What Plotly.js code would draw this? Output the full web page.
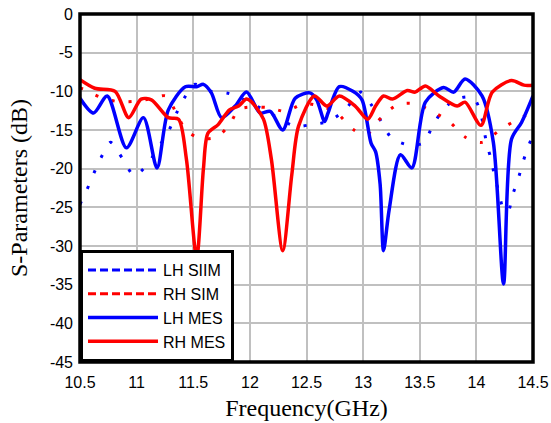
<!DOCTYPE html>
<html>
<head>
<meta charset="utf-8">
<script src="https://cdn.plot.ly/plotly-3.0.1.min.js"></script>
<style>html,body{margin:0;padding:0;background:#fff;}</style>
</head>
<body>
<div id="chart" style="width:551px;height:423px;"></div>
<script>
// LH SIM (blue dotted)
const lhSimF = [10.50,10.58,10.64,10.71,10.77,10.88,10.98,11.09,11.19,11.28,11.35,11.42,11.51,11.66,11.82,12.10,12.40,12.54,12.69,12.84,12.98,13.07,13.16,13.25,13.39,13.53,13.61,13.70,13.82,13.97,14.03,14.09,14.13,14.16,14.20,14.24,14.28,14.32,14.37,14.41,14.46,14.50];
const lhSimDB = [-24.6,-22.1,-20.0,-17.9,-16.6,-18.8,-20.9,-19.5,-17.3,-15.2,-12.9,-10.9,-9.1,-10.0,-10.3,-12.2,-14.5,-14.3,-13.9,-12.4,-10.1,-11.7,-13.9,-16.0,-16.9,-16.7,-14.6,-12.5,-11.0,-10.8,-12.4,-16.7,-18.8,-20.9,-23.1,-25.3,-25.5,-23.4,-21.3,-19.2,-17.1,-15.6];

// RH SIM (red dotted)
const rhSimF = [10.50,10.53,10.67,10.82,10.97,11.12,11.26,11.35,11.44,11.57,11.71,11.82,11.91,12.16,12.32,12.47,12.62,12.76,12.91,13.03,13.17,13.31,13.46,13.61,13.76,13.90,14.05,14.20,14.34,14.50];
const rhSimDB = [-9.6,-9.7,-10.7,-11.3,-11.3,-11.0,-10.6,-12.8,-15.1,-16.1,-15.9,-14.3,-12.3,-12.1,-12.6,-11.6,-11.9,-12.7,-14.9,-15.6,-13.2,-11.7,-11.6,-12.6,-13.9,-15.9,-16.6,-15.1,-13.8,-12.7];

// LH MES (blue solid)
const lhMesF = [10.50,10.62,10.74,10.91,11.06,11.18,11.28,11.43,11.53,11.59,11.66,11.75,11.87,11.97,12.09,12.18,12.29,12.40,12.53,12.59,12.66,12.69,12.79,12.91,12.99,13.07,13.11,13.15,13.18,13.23,13.33,13.43,13.55,13.71,13.80,13.90,14.05,14.15,14.24,14.31,14.40,14.50];
const lhMesDB = [-10.9,-12.8,-10.6,-17.3,-13.4,-19.9,-12.4,-9.4,-9.4,-9.1,-10.2,-13.4,-11.9,-10.1,-12.8,-12.6,-15.0,-10.9,-10.2,-11.1,-13.9,-12.8,-9.4,-10.0,-11.1,-16.7,-17.8,-22.0,-30.6,-25.3,-18.2,-19.9,-11.4,-9.5,-10.1,-8.4,-10.6,-16.6,-34.9,-16.2,-14.0,-10.6];

// RH MES (red solid)
const rhMesF = [10.50,10.63,10.81,10.93,11.04,11.13,11.28,11.37,11.44,11.53,11.59,11.63,11.72,11.82,11.90,11.97,12.01,12.12,12.19,12.29,12.37,12.43,12.57,12.68,12.79,12.93,13.04,13.11,13.18,13.26,13.39,13.46,13.55,13.67,13.83,13.90,14.04,14.14,14.31,14.42,14.50];
const rhMesDB = [-8.5,-9.6,-10.0,-13.4,-11.0,-11.1,-13.4,-13.6,-18.8,-31.5,-20.0,-15.4,-14.3,-12.4,-11.9,-11.0,-11.3,-13.6,-18.8,-30.6,-20.8,-14.5,-10.6,-11.9,-10.6,-11.9,-13.6,-11.9,-10.6,-11.0,-9.9,-10.1,-9.3,-10.6,-11.9,-11.4,-14.4,-10.1,-8.6,-9.2,-9.2];

const seriesNames = ['LH SIIM', 'RH SIM', 'LH MES', 'RH MES'];
const xTickVals = [10.5, 11, 11.5, 12, 12.5, 13, 13.5, 14, 14.5];
const xTickText = ['10.5', '11', '11.5', '12', '12.5', '13', '13.5', '14', '14.5'];
const yTickVals = [0, -5, -10, -15, -20, -25, -30, -35, -40, -45];
const yTickText = ['0', '-5', '-10', '-15', '-20', '-25', '-30', '-35', '-40', '-45'];

const BLUE = '#0000ff', RED = '#ff0000';
const DOT = '3px,14px';

const traces = [
  {x: lhSimF, y: lhSimDB, mode: 'lines', line: {color: BLUE, width: 3, dash: DOT, shape: 'spline', smoothing: 0.8}, showlegend: false, hoverinfo: 'skip'},
  {x: rhSimF, y: rhSimDB, mode: 'lines', line: {color: RED, width: 3, dash: DOT, shape: 'spline', smoothing: 0.8}, showlegend: false, hoverinfo: 'skip'},
  {x: lhMesF, y: lhMesDB, mode: 'lines', name: seriesNames[2], line: {color: BLUE, width: 3.5, shape: 'spline', smoothing: 0.8}, showlegend: false},
  {x: rhMesF, y: rhMesDB, mode: 'lines', name: seriesNames[3], line: {color: RED, width: 3.5, shape: 'spline', smoothing: 0.8}, showlegend: false},
  // legend entries
  {x: [null], y: [null], mode: 'lines', name: seriesNames[0], line: {color: BLUE, width: 3, dash: '8px,4px'}},
  {x: [null], y: [null], mode: 'lines', name: seriesNames[1], line: {color: RED, width: 3, dash: '8px,4px'}},
  {x: [null], y: [null], mode: 'lines', name: seriesNames[2], line: {color: BLUE, width: 3.5}},
  {x: [null], y: [null], mode: 'lines', name: seriesNames[3], line: {color: RED, width: 3.5}}
];

const tickFont = {family: 'Liberation Sans, Arial, sans-serif', size: 16, color: '#000'};
const titleFont = {family: 'Liberation Serif, Times New Roman, serif', size: 24, color: '#000'};

const layout = {
  width: 551, height: 423,
  margin: {l: 80, r: 18, t: 14, b: 61},
  paper_bgcolor: '#fff', plot_bgcolor: '#fff',
  showlegend: true,
  xaxis: {
    range: [10.5, 14.5], tickvals: xTickVals, ticktext: xTickText,
    showgrid: true, gridcolor: '#c0c0c0', gridwidth: 2, zeroline: false,
    showline: false, ticks: '', tickfont: tickFont, ticklabelstandoff: 9,
    title: {text: 'Frequency(GHz)', font: titleFont, standoff: 9}
  },
  yaxis: {
    range: [-45, 0], tickvals: yTickVals, ticktext: yTickText,
    showgrid: true, gridcolor: '#c0c0c0', gridwidth: 2, zeroline: false,
    showline: false, ticks: '', tickfont: tickFont, ticklabelstandoff: 6,
    title: {text: 'S-Parameters (dB)', font: titleFont, standoff: 15}
  },
  legend: {
    x: 0, y: 0, xanchor: 'left', yanchor: 'bottom',
    bgcolor: '#fff', bordercolor: '#000', borderwidth: 3,
    font: {family: 'Liberation Sans, Arial, sans-serif', size: 16, color: '#000'},
    itemwidth: 70, tracegroupgap: 0
  },
  shapes: [
    {type: 'rect', xref: 'paper', yref: 'paper', x0: 0, x1: 1, y0: 0, y1: 1, line: {color: '#000', width: 3.5}, layer: 'above'}
  ]
};

Plotly.newPlot('chart', traces, layout, {staticPlot: true, displayModeBar: false});
</script>
</body>
</html>
